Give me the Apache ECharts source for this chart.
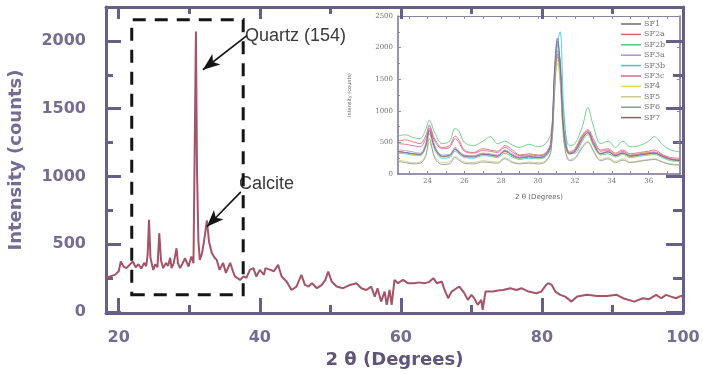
<!DOCTYPE html>
<html>
<head>
<meta charset="utf-8">
<script src="https://cdn.jsdelivr.net/npm/echarts@6/dist/echarts.min.js"></script>
<style>
html,body{margin:0;padding:0;background:#fff;}
#chart{width:703px;height:374px;}
</style>
</head>
<body>
<div id="chart"></div>
<script>
// ---- Main XRD pattern (2θ in degrees, intensity in counts) ----
var mainPattern = [
 [18.2,250],[18.8,262],[19.5,275],[20.0,300],[20.3,372],[20.7,335],[21.1,323],[21.5,345],[22.0,372],[22.4,330],
 [22.8,352],[23.2,320],[23.6,362],[23.9,338],[24.1,420],[24.3,680],[24.5,400],[24.9,310],[25.2,352],[25.5,330],
 [25.75,581],[26.0,380],[26.3,323],[26.7,362],[27.0,340],[27.3,399],[27.5,323],[27.8,360],[28.2,470],[28.4,360],
 [28.7,323],[29.0,352],[29.4,396],[29.9,335],[30.3,409],[30.6,360],[30.8,347],[30.95,2070],[31.1,1050],[31.3,520],
 [31.5,384],[31.8,430],[32.1,520],[32.5,675],[32.8,520],[33.2,435],[33.6,400],[33.9,384],[34.3,310],[34.8,362],
 [35.2,288],[35.8,362],[36.2,300],[36.5,261],[37.2,236],[37.7,262],[38.1,251],[38.6,310],[39.1,323],[39.5,261],
 [40.0,310],[40.6,273],[40.8,323],[41.5,310],[42.0,300],[42.6,347],[43.1,261],[43.8,224],[44.5,162],[45.2,187],
 [45.9,273],[46.4,199],[46.9,187],[47.4,212],[48.1,175],[48.8,199],[49.3,236],[49.7,298],[50.2,224],[50.9,187],
 [51.8,175],[52.8,199],[53.7,212],[54.4,175],[55.1,162],[55.8,187],[56.3,113],[56.7,175],[57.2,76],[57.7,150],
 [58.0,52],[58.4,162],[58.7,52],[59.1,236],[59.6,212],[60.3,236],[61.0,212],[61.9,212],[62.6,218],[63.3,212],
 [64.0,220],[64.6,249],[65.1,212],[65.8,224],[66.2,162],[66.7,101],[67.2,150],[67.9,175],[68.3,187],[69.0,138],
 [69.5,89],[70.0,126],[70.4,101],[70.9,52],[71.4,89],[71.6,15],[72.0,150],[73.0,150],[73.8,158],[74.5,162],
 [75.5,175],[76.4,162],[77.1,175],[78.1,150],[79.2,138],[79.9,150],[80.6,199],[80.9,212],[81.4,199],[81.9,150],
 [82.6,126],[83.3,113],[84.2,76],[85.0,113],[86.4,126],[87.8,118],[89.2,118],[90.6,126],[91.5,101],[93.1,76],
 [94.3,101],[95.2,94],[96.2,126],[96.9,101],[97.6,126],[98.3,113],[99.0,101],[99.7,118],[100.0,110]
];
var mainXTicks = [20, 40, 60, 80, 100];
var mainXMinorTicks = [30, 50, 70, 90];
var mainYTicks = [0, 500, 1000, 1500, 2000];
var mainYMinorTicks = [250, 750, 1250, 1750];

// Dashed highlight box [x0, y0] - [x1, y1] in data units
var boxCorners = [[21.85, 126], [37.65, 2156]];
// Annotation arrows: [tail, head] in data units
var quartzArrow = [[38.17, 2038], [31.94, 1787]];
var calciteArrow = [[37.32, 886], [32.5, 628]];
var quartzLabel = 'Quartz (154)';
var calciteLabel = 'Calcite';

// ---- Inset: zoom of 22–38° for ten samples ----
var insetAngles = [22.4,22.8,23.2,23.6,23.9,24.1,24.4,24.8,25.2,25.5,25.7,26.0,26.5,27.0,27.4,27.8,28.2,28.6,29.0,29.5,30.0,30.4,30.7,30.9,31.05,31.2,31.4,31.7,32.0,32.4,32.7,33.0,33.4,33.8,34.2,34.6,35.0,35.5,36.0,36.3,36.8,37.2,37.7];
var insetNames = ['SF1','SF2a','SF2b','SF3a','SF3b','SF3c','SF4','SF5','SF6','SF7'];
var SF1  = [360,340,320,310,450,700,420,280,290,400,350,290,280,320,300,290,370,300,260,280,260,300,480,1600,2100,1700,600,320,360,560,650,480,320,350,290,330,280,300,320,330,270,230,210];
var SF2a = [520,540,510,480,600,760,550,420,450,600,540,380,340,400,380,360,450,380,300,320,300,330,500,1500,1900,1600,700,350,400,620,700,560,380,400,330,380,320,340,360,380,300,260,250];
var SF2b = [600,620,580,560,700,850,650,480,520,720,680,500,450,520,590,480,520,460,420,470,430,480,650,1500,1950,1800,900,450,480,750,1050,760,480,520,420,520,430,450,520,590,450,380,350];
var SF3a = [380,370,350,330,480,780,450,300,310,420,370,300,290,330,320,300,380,320,270,290,270,310,460,1550,1950,1650,620,330,370,580,680,500,330,360,300,340,290,310,330,340,280,240,220];
var SF3b = [330,320,300,290,420,640,380,250,260,360,320,260,250,290,280,260,330,270,230,250,240,270,420,1400,2050,2250,1000,330,330,520,620,450,300,320,270,310,260,280,300,310,250,210,200];
var SF3c = [480,470,450,430,550,720,520,400,420,560,500,360,330,370,360,340,420,350,290,300,290,320,520,1650,1850,1500,650,330,380,600,680,520,360,380,310,360,300,320,340,350,290,240,230];
var SF4  = [340,330,310,300,430,620,400,270,280,380,330,280,270,310,290,280,350,290,250,270,250,290,440,1450,1800,1550,580,310,350,540,620,460,310,340,280,320,270,290,310,320,260,220,200];
var SF5  = [220,200,180,190,300,500,280,180,190,280,240,190,180,210,200,190,260,200,170,190,180,210,380,1350,1750,1450,500,230,260,440,520,380,230,260,200,240,190,210,230,240,190,160,150];
var SF6  = [200,180,160,170,280,560,250,150,160,260,220,170,160,190,180,170,240,180,160,170,160,190,360,1300,1900,1650,550,210,240,420,500,360,210,240,180,220,180,200,220,230,180,150,140];
var SF7  = [350,340,320,310,440,680,410,280,290,390,340,280,270,310,300,280,360,290,250,270,260,290,470,1700,2150,1750,650,320,350,560,660,480,320,350,290,330,280,300,320,330,270,230,210];
var insetValues = [SF1, SF2a, SF2b, SF3a, SF3b, SF3c, SF4, SF5, SF6, SF7];
var insetColors = ['#6e6e6e','#e06464','#5cc87a','#b48fd6','#3cc4dc','#d9668f','#e2dc3c','#c8c98a','#8e9c8e','#7b5fa0'];
var insetXTicks = [24, 26, 28, 30, 32, 34, 36];
var insetXMinorTicks = [23,24,25,26,27,28,29,30,31,32,33,34,35,36,37];

var axisCol = '#675f87';
var labCol = '#766c92';
var boldFont = 'DejaVu Sans';
function plain(v) { return String(v); }

function pairs(xs, ys) { return xs.map(function (x, i) { return [x, ys[i]]; }); }

var chart = echarts.init(document.getElementById('chart'), null, {renderer: 'canvas'});

var mainX = {min: 18.2, max: 100, type: 'value', gridIndex: 0, splitLine: {show: false}};
var mainY = {min: -8, max: 2250, type: 'value', gridIndex: 0, splitLine: {show: false}};

var xAxes = [
  Object.assign({}, mainX, {
    position: 'bottom',
    axisLine: {show: true, onZero: false, lineStyle: {color: axisCol, width: 3}},
    axisTick: {show: true, inside: true, length: 15, customValues: mainXTicks, lineStyle: {color: axisCol, width: 3}},
    axisLabel: {customValues: mainXTicks, formatter: plain, color: labCol, fontFamily: boldFont, fontWeight: 'bold', fontSize: 16, margin: 17},
    name: '2 θ (Degrees)', nameLocation: 'middle', nameGap: 36,
    nameTextStyle: {color: '#5f5579', fontFamily: boldFont, fontWeight: 'bold', fontSize: 18}
  }),
  Object.assign({}, mainX, {
    position: 'bottom',
    axisLine: {show: false, onZero: false},
    axisTick: {show: true, inside: true, length: 8, customValues: mainXMinorTicks, lineStyle: {color: axisCol, width: 3}},
    axisLabel: {show: false}
  }),
  Object.assign({}, mainX, {
    position: 'top',
    axisLine: {show: true, onZero: false, lineStyle: {color: axisCol, width: 3}},
    axisTick: {show: true, inside: true, length: 12, customValues: mainXTicks, lineStyle: {color: axisCol, width: 3}},
    axisLabel: {show: false}
  }),
  Object.assign({}, mainX, {
    position: 'top',
    axisLine: {show: false, onZero: false},
    axisTick: {show: true, inside: true, length: 7, customValues: mainXMinorTicks, lineStyle: {color: axisCol, width: 3}},
    axisLabel: {show: false}
  }),
  {
    type: 'value', gridIndex: 1, min: 22.4, max: 37.7, position: 'bottom',
    splitLine: {show: false},
    axisLine: {show: true, onZero: false, lineStyle: {color: '#7a7090', width: 1.5}},
    axisTick: {show: true, inside: true, length: 3, customValues: insetXMinorTicks, lineStyle: {color: '#8a8aa0'}},
    axisLabel: {customValues: insetXTicks, formatter: plain, color: '#777', fontSize: 7, fontFamily: 'DejaVu Serif', margin: 4},
    name: '2 θ (Degrees)', nameLocation: 'middle', nameGap: 20,
    nameTextStyle: {color: '#666', fontSize: 7, fontFamily: 'DejaVu Sans'}
  },
  {
    type: 'value', gridIndex: 1, min: 22.4, max: 37.7, position: 'top',
    splitLine: {show: false},
    axisLine: {show: true, onZero: false, lineStyle: {color: '#8a82a0', width: 1}},
    axisTick: {show: true, inside: true, length: 3, customValues: insetXMinorTicks, lineStyle: {color: '#8a8aa0'}},
    axisLabel: {show: false}
  }
];

var yAxes = [
  Object.assign({}, mainY, {
    position: 'left',
    axisLine: {show: true, onZero: false, lineStyle: {color: axisCol, width: 3}},
    axisTick: {show: true, inside: true, length: 15, customValues: mainYTicks, lineStyle: {color: axisCol, width: 3}},
    axisLabel: {customValues: mainYTicks, formatter: plain, color: labCol, fontFamily: boldFont, fontWeight: 'bold', fontSize: 16, margin: 20},
    name: 'Intensity (counts)', nameLocation: 'middle', nameGap: 81,
    nameTextStyle: {color: labCol, fontFamily: boldFont, fontWeight: 'bold', fontSize: 18}
  }),
  Object.assign({}, mainY, {
    position: 'left',
    axisLine: {show: false, onZero: false},
    axisTick: {show: true, inside: true, length: 7, customValues: mainYMinorTicks, lineStyle: {color: axisCol, width: 3}},
    axisLabel: {show: false}
  }),
  Object.assign({}, mainY, {
    position: 'right',
    axisLine: {show: true, onZero: false, lineStyle: {color: axisCol, width: 3}},
    axisTick: {show: true, inside: true, length: 17, customValues: mainYTicks, lineStyle: {color: axisCol, width: 3}},
    axisLabel: {show: false}
  }),
  Object.assign({}, mainY, {
    position: 'right',
    axisLine: {show: false, onZero: false},
    axisTick: {show: true, inside: true, length: 10, customValues: mainYMinorTicks, lineStyle: {color: axisCol, width: 3}},
    axisLabel: {show: false}
  }),
  {
    type: 'value', gridIndex: 1, min: 0, max: 2500, interval: 500, position: 'left',
    splitLine: {show: false},
    axisLine: {show: true, onZero: false, lineStyle: {color: '#7a7090', width: 1.5}},
    axisTick: {show: true, inside: true, length: 3, lineStyle: {color: '#8a8aa0'}},
    minorTick: {show: true, splitNumber: 2, length: 2, lineStyle: {color: '#8a8aa0'}},
    axisLabel: {formatter: plain, color: '#777', fontSize: 7, fontFamily: 'DejaVu Serif', margin: 5},
    name: 'Intensity (counts)', nameLocation: 'middle', nameGap: 46,
    nameTextStyle: {color: '#666', fontSize: 5, fontFamily: 'DejaVu Sans'}
  },
  {
    type: 'value', gridIndex: 1, min: 0, max: 2500, interval: 500, position: 'right',
    splitLine: {show: false},
    axisLine: {show: true, onZero: false, lineStyle: {color: '#7a7090', width: 1.5}},
    axisTick: {show: true, inside: true, length: 3, lineStyle: {color: '#8a8aa0'}},
    axisLabel: {show: false}
  }
];

var series = [{
  type: 'line', name: 'main', xAxisIndex: 0, yAxisIndex: 0,
  data: mainPattern, showSymbol: false, symbol: 'none',
  lineStyle: {color: '#a55467', width: 2},
  itemStyle: {color: '#a55467'},
  z: 3,
  markArea: {
    silent: true,
    itemStyle: {color: 'rgba(0,0,0,0)', borderColor: '#151515', borderWidth: 3, borderType: [13, 9]},
    data: [[{coord: boxCorners[0]}, {coord: boxCorners[1]}]]
  },
  markLine: {
    silent: true, animation: false,
    label: {show: false},
    lineStyle: {color: '#151515', width: 1.6, type: 'solid'},
    data: [
      [{coord: quartzArrow[0], symbol: 'none'}, {coord: quartzArrow[1], symbol: 'arrow', symbolSize: [10, 17]}],
      [{coord: calciteArrow[0], symbol: 'none'}, {coord: calciteArrow[1], symbol: 'arrow', symbolSize: [10, 17]}]
    ]
  }
}];

insetNames.forEach(function (n, i) {
  series.push({
    type: 'line', name: n, xAxisIndex: 4, yAxisIndex: 4,
    data: pairs(insetAngles, insetValues[i]),
    showSymbol: false, symbol: 'none', smooth: 0.35,
    lineStyle: {color: insetColors[i], width: 1, opacity: 0.85},
    itemStyle: {color: insetColors[i]}
  });
});

chart.setOption({
  animation: false,
  backgroundColor: '#ffffff',
  grid: [
    {left: 106, right: 20, top: 7, bottom: 61, containLabel: false, outerBoundsMode: 'none'},
    {left: 398, right: 23, top: 16, bottom: 200, containLabel: false, outerBoundsMode: 'none'}
  ],
  xAxis: xAxes,
  yAxis: yAxes,
  legend: {
    data: insetNames,
    orient: 'vertical',
    left: 621, top: 19,
    itemWidth: 20, itemHeight: 1.5, itemGap: 0.4,
    icon: 'rect',
    textStyle: {color: '#777', fontSize: 8, fontFamily: 'DejaVu Serif', lineHeight: 10, padding: [0, 0, 0, -2]},
    padding: 0,
    selectedMode: false
  },
  graphic: [
    {type: 'text', left: 245, top: 27, style: {text: quartzLabel, fill: '#3a3a3a', font: '18px "Liberation Sans", Arial, sans-serif'}},
    {type: 'text', left: 239, top: 175, style: {text: calciteLabel, fill: '#3a3a3a', font: '18px "Liberation Sans", Arial, sans-serif'}}
  ],
  series: series
});
</script>
</body>
</html>
